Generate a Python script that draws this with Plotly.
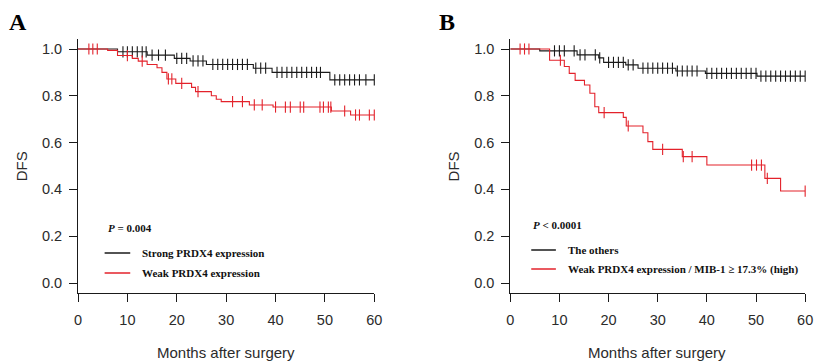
import numpy as np
import plotly.graph_objects as go

# ---------------- data ----------------
x_ticks = [0, 10, 20, 30, 40, 50, 60]
y_ticks = [0.0, 0.2, 0.4, 0.6, 0.8, 1.0]

# Panel A
A_strong_t = [8, 14, 19.5, 22.7, 26, 35.5, 39.3, 51]
A_strong_s = [0.988, 0.974, 0.960, 0.949, 0.934, 0.918, 0.900, 0.868]
A_strong_cens = [9.1, 10, 11, 12, 13, 13.8, 15, 16.3, 17.7, 20, 21, 22, 23.3, 24.3, 25.3,
                 27.3, 28.3, 29.3, 30.3, 31.3, 32.3, 33.3, 34.3, 36, 37, 38, 40.3, 41.3,
                 42.3, 43.3, 44.3, 45.3, 46.3, 47.3, 48.3, 49.1, 52, 53, 54, 55, 56, 57,
                 58.3, 60]

A_weak_t = [6, 8, 11, 12.2, 14, 16, 17, 18, 19.8, 23, 23.8, 27, 28, 29, 34.7, 39.5, 51.3, 55.2]
A_weak_s = [0.994, 0.972, 0.960, 0.948, 0.934, 0.920, 0.900, 0.872, 0.853, 0.836, 0.818,
            0.800, 0.785, 0.775, 0.761, 0.752, 0.735, 0.718]
A_weak_cens = [2.2, 3, 3.9, 10, 13, 18.3, 19, 21, 24.3, 31.3, 33.3, 35.7, 37.3, 40, 42, 43,
               45, 45.7, 49, 49.7, 50.7, 51.2, 54, 56.2, 57, 59, 60]

# Panel B
B_other_t = [6, 13.6, 18, 19, 23.5, 26, 33.7, 39.7, 50.2]
B_other_s = [0.992, 0.975, 0.962, 0.943, 0.932, 0.918, 0.906, 0.896, 0.884]
B_other_cens = [9, 10, 11, 13, 14.2, 15.2, 17.3, 18.2, 20, 21, 22, 23, 24, 25, 27, 28, 29,
                30, 31, 32, 33, 34, 35, 36, 37, 38, 40, 41, 42, 43, 44, 45, 46, 47, 48, 49,
                50, 51, 52, 53, 54, 55, 56, 57, 58, 59, 60]

B_high_t = [8, 11, 12, 13.2, 15.1, 16.2, 17.2, 18, 23, 23.6, 27, 28, 29, 35, 40, 51.8, 55]
B_high_s = [0.952, 0.925, 0.896, 0.866, 0.846, 0.811, 0.753, 0.728, 0.708, 0.671, 0.642,
            0.604, 0.571, 0.540, 0.504, 0.447, 0.393]
B_high_cens = [2, 2.9, 3.8, 10.2, 19.1, 24, 31, 35.2, 37, 49.1, 50.1, 51.1, 52.3, 60]

labels_A = ["Strong PRDX4 expression", "Weak PRDX4 expression"]
labels_B = ["The others", "Weak PRDX4 expression / MIB-1 \u2265 17.3% (high)"]
p_A = "<b><i>P</i> = 0.004</b>"
p_B = "<b><i>P</i> &lt; 0.0001</b>"

# ---------------- styling ----------------
BLACK = "#1a1a1a"
RED = "#e3222b"
OFF = 8                      # page body margin of the html document
W, H = 824 - OFF, 363 - OFF
AX_BOTTOM = 293              # window pixel of x-axis line
AX_TOP = 39                  # window pixel of top of y-axis line
T_MARGIN = AX_TOP - OFF
B_MARGIN = 363 - AX_BOTTOM
PH = AX_BOTTOM - AX_TOP


def px2x(px):
    return (px - OFF) / W


def py2y(py):
    return (AX_BOTTOM - py) / PH


def step_xy(t, s, tmax=60):
    x = [0] + list(t) + [tmax]
    y = [1.0] + list(s) + [s[-1]]
    return x, y


def surv_at(t, s, c):
    t = np.asarray(t)
    s = np.asarray([1.0] + list(s))
    idx = np.searchsorted(t, np.asarray(c), side="right")
    return s[idx]


fig = go.Figure()


def add_curve(t, s, cens, color, xa, ya):
    x, y = step_xy(t, s)
    fig.add_trace(go.Scatter(x=x, y=y, mode="lines", line=dict(color=color, width=1.1, shape="hv"),
                             xaxis=xa, yaxis=ya, cliponaxis=False, showlegend=False, hoverinfo="skip"))
    fig.add_trace(go.Scatter(x=cens, y=surv_at(t, s, cens), mode="markers",
                             marker=dict(symbol="line-ns-open", size=8, color=color,
                                         line=dict(color=color, width=1.1)),
                             xaxis=xa, yaxis=ya, cliponaxis=False, showlegend=False,
                             hoverinfo="skip"))


add_curve(A_strong_t, A_strong_s, A_strong_cens, BLACK, "x", "y")
add_curve(A_weak_t, A_weak_s, A_weak_cens, RED, "x", "y")
add_curve(B_other_t, B_other_s, B_other_cens, BLACK, "x2", "y2")
add_curve(B_high_t, B_high_s, B_high_cens, RED, "x2", "y2")

axis_common = dict(showline=True, linecolor=BLACK, linewidth=1, ticks="outside", ticklen=8,
                   tickwidth=1, tickcolor=BLACK, showgrid=False, zeroline=False,
                   tickfont=dict(family="Liberation Sans, Arial", size=14.5, color="#2b2b2b"))

yr = [-(10 / 234), 1 + 10 / 234]
fig.update_layout(
    width=W, height=H,
    margin=dict(l=0, r=0, t=T_MARGIN, b=B_MARGIN),
    paper_bgcolor="white", plot_bgcolor="white",
    xaxis=dict(domain=[px2x(75), px2x(375.7)], range=[0, 60], tickvals=x_ticks,
               anchor="y", ticklabelstandoff=6, **axis_common),
    yaxis=dict(range=yr, tickvals=y_ticks, tickformat=".1f", anchor="x",
               ticklabelstandoff=4, **axis_common),
    xaxis2=dict(domain=[px2x(513.7), px2x(813)], range=[0, 60], tickvals=x_ticks,
                anchor="y2", ticklabelstandoff=6, **axis_common),
    yaxis2=dict(range=yr, tickvals=y_ticks, tickformat=".1f", anchor="x2",
                ticklabelstandoff=4, **axis_common),
)

ann = []
shapes = []
serif = "Liberation Serif, Times New Roman"
sans = "Liberation Sans, Arial"


def text(px, py, s, size, family, xanchor="left", angle=0, color="#111"):
    ann.append(dict(x=px2x(px), y=py2y(py), xref="paper", yref="paper", text=s,
                    showarrow=False, xanchor=xanchor, yanchor="middle", textangle=angle,
                    font=dict(family=family, size=size, color=color)))


text(14, 22.5, "<b>A</b>", 24, serif, "center", color="#000")
text(450, 22.5, "<b>B</b>", 24, serif, "center", color="#000")
text(17.5, 166, "DFS", 15, sans, "center", angle=-90, color="#2b2b2b")
text(456, 166, "DFS", 15, sans, "center", angle=-90, color="#2b2b2b")
text(225, 352, "Months after surgery", 15, sans, "center", color="#2b2b2b")
text(663, 352, "Months after surgery", 15, sans, "center", color="#2b2b2b")

# legends
text(103, 228, p_A, 11, serif)
text(535, 225, p_B, 11, serif)
for (x0, x1, tx, ys, labels) in [(102, 128, 138, [253, 273], labels_A),
                                  (535, 560, 570, [250, 269], labels_B)]:
    for yy, lab, col in zip(ys, labels, [BLACK, RED]):
        shapes.append(dict(type="line", xref="paper", yref="paper", x0=px2x(x0), x1=px2x(x1),
                           y0=py2y(yy), y1=py2y(yy), line=dict(color=col, width=1.5)))
        text(tx, yy, "<b>" + lab + "</b>", 11, serif)

fig.update_layout(annotations=ann, shapes=shapes)
fig.write_html("out.html")
